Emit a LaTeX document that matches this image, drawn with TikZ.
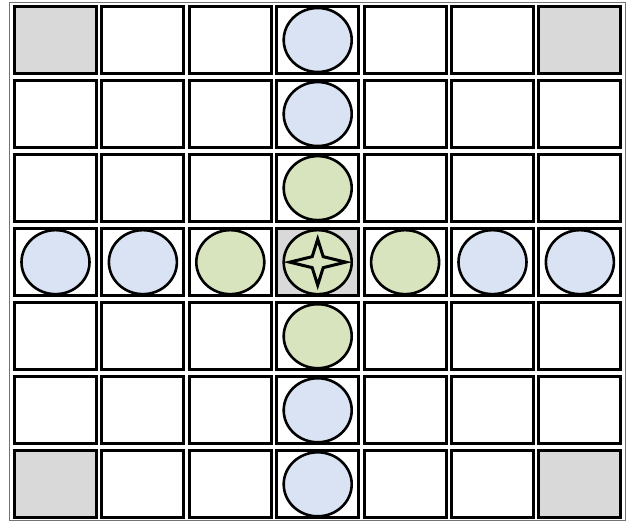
\documentclass[tikz,border=0pt]{standalone}
\usetikzlibrary{shapes.geometric}
\definecolor{cblue}{HTML}{DAE3F3}
\definecolor{cgreen}{HTML}{D7E4BD}
\definecolor{cgrey}{HTML}{D9D9D9}
\begin{document}
\begin{tikzpicture}[x=1pt,y=-1pt,
  cell/.style={draw=black,line width=3pt,minimum width=82pt,minimum height=67pt,inner sep=0pt,outer sep=0pt},
  disc/.style={ellipse,draw=black,line width=2.6pt,minimum width=68pt,minimum height=64pt,inner sep=0pt},
  frame/.style={draw=black!55,line width=1pt},
  starline/.style={draw=black,line width=3pt,line join=miter}]
\useasboundingbox (0,0) rectangle (627,521);
\draw[frame] (9.5,2.5) rectangle (625.5,520.5);
\foreach \i in {0,...,6} {
  \foreach \j in {0,...,6} {
    \pgfmathtruncatemacro\g{(((\i==0)||(\i==6))&&((\j==0)||(\j==6)))||((\i==3)&&(\j==3)) ? 1 : 0}
    \ifnum\g=1 \def\fc{cgrey}\else\def\fc{white}\fi
    \node[cell,fill=\fc] (c-\i-\j) at ({55.5+87.4*\i},{40+74.05*\j}) {};
  }
}
\foreach \i/\j/\c in {3/0/cblue,3/1/cblue,3/2/cgreen,3/3/cgreen,3/4/cgreen,3/5/cblue,3/6/cblue,
                      0/3/cblue,1/3/cblue,2/3/cgreen,4/3/cgreen,5/3/cblue,6/3/cblue}
  \node[disc,fill=\c] (d-\i-\j) at (c-\i-\j) {};
\draw[starline,shift={(d-3-3.center)}] (0,-23) -- (5.5,-5.5) -- (28,0) -- (5.5,5.5) -- (0,23)
  -- (-5.5,5.5) -- (-28,0) -- (-5.5,-5.5) -- cycle;
\end{tikzpicture}
\end{document}
